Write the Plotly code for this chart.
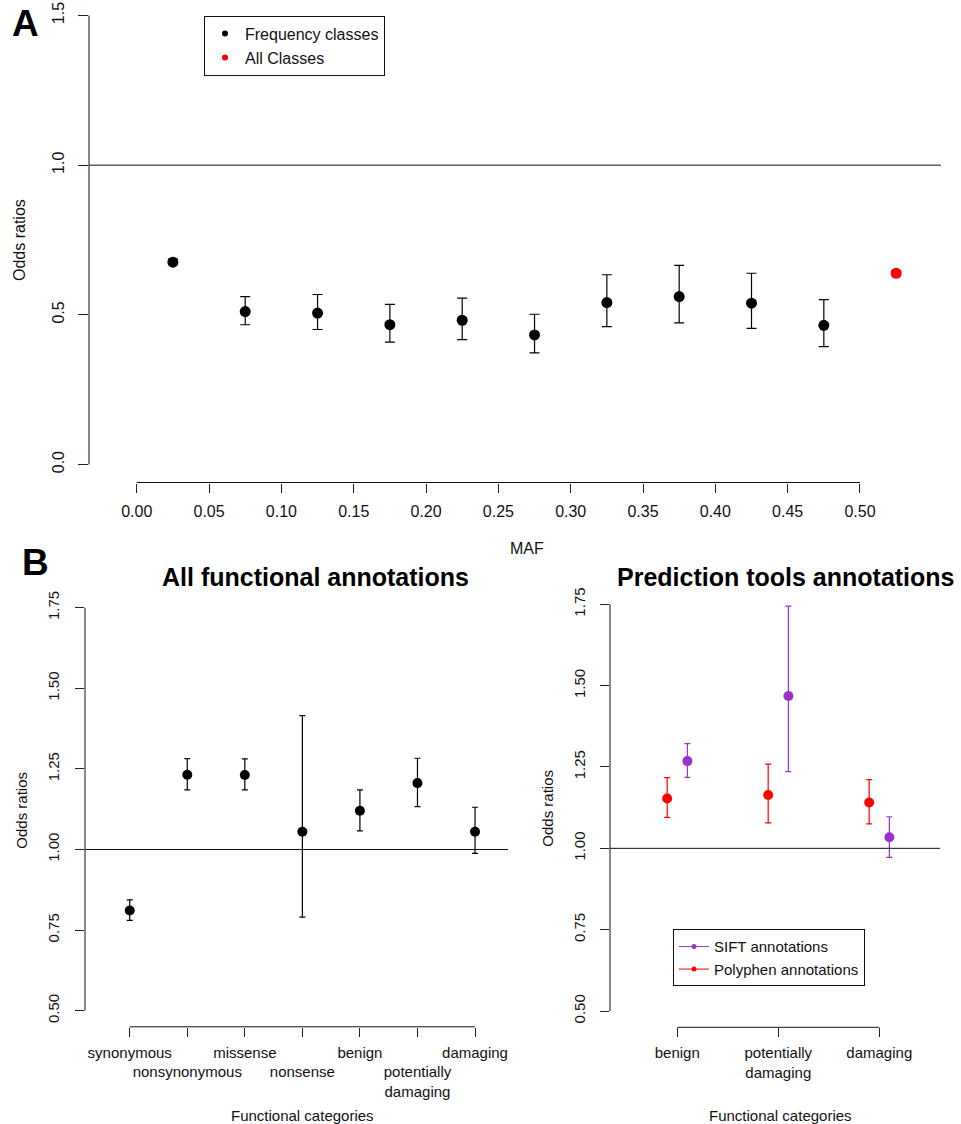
import plotly.graph_objects as go

# ---------------- data ----------------
maf_mid = [0.025, 0.075, 0.125, 0.175, 0.225, 0.275, 0.325, 0.375, 0.425, 0.475]
freq_or = [0.676, 0.511, 0.506, 0.467, 0.482, 0.433, 0.541, 0.561, 0.539, 0.465]
freq_low = [0.668, 0.467, 0.451, 0.409, 0.417, 0.373, 0.461, 0.473, 0.455, 0.394]
freq_high = [0.686, 0.561, 0.568, 0.535, 0.556, 0.502, 0.634, 0.665, 0.639, 0.551]

all_x = [0.525]
all_or = [0.639]
all_low = [0.630]
all_high = [0.648]

maf_ticks = [0.00, 0.05, 0.10, 0.15, 0.20, 0.25, 0.30, 0.35, 0.40, 0.45, 0.50]
or_ticks_a = [0.0, 0.5, 1.0, 1.5]
or_ticks_b = [0.50, 0.75, 1.00, 1.25, 1.50, 1.75]

func_cats = ["synonymous", "nonsynonymous", "missense", "nonsense",
             "benign", "potentially damaging", "damaging"]
func_or = [0.811, 1.232, 1.231, 1.055, 1.120, 1.206, 1.055]
func_low = [0.780, 1.185, 1.185, 0.790, 1.058, 1.133, 0.988]
func_high = [0.844, 1.282, 1.281, 1.415, 1.185, 1.283, 1.131]

pred_cats = ["benign", "potentially damaging", "damaging"]
polyphen_or = [1.153, 1.164, 1.141]
polyphen_low = [1.095, 1.078, 1.075]
polyphen_high = [1.217, 1.259, 1.211]
sift_or = [1.268, 1.468, 1.034]
sift_low = [1.218, 1.236, 0.972]
sift_high = [1.322, 1.744, 1.097]

# ---------------- helpers ----------------
W, H = 961, 1124
FONT = "Liberation Sans, Arial, Helvetica, sans-serif"
PURPLE = "#9932CC"
RED = "#FF0000"


def px(p):
    return p / W


def py(p):
    return 1 - p / H


def err(vals, lo, hi, color, width):
    return dict(type="data", symmetric=False,
                array=[h - v for v, h in zip(vals, hi)],
                arrayminus=[v - l for v, l in zip(vals, lo)],
                color=color, thickness=1.2, width=width)


fig = go.Figure()

# ---- Panel A ----
fig.add_trace(go.Scatter(x=maf_mid, y=freq_or, mode="markers",
                         marker=dict(color="black", size=11),
                         error_y=err(freq_or, freq_low, freq_high, "black", 5),
                         showlegend=False, xaxis="x", yaxis="y"))
fig.add_trace(go.Scatter(x=all_x, y=all_or, mode="markers",
                         marker=dict(color=RED, size=11),
                         error_y=err(all_or, all_low, all_high, RED, 5),
                         showlegend=False, xaxis="x", yaxis="y"))
fig.add_trace(go.Scatter(x=[None], y=[None], mode="markers", name="Frequency classes",
                         marker=dict(color="black", size=6), legend="legend",
                         xaxis="x", yaxis="y"))
fig.add_trace(go.Scatter(x=[None], y=[None], mode="markers", name="All Classes",
                         marker=dict(color=RED, size=6), legend="legend",
                         xaxis="x", yaxis="y"))

# ---- Panel B left ----
fx = [i + 1 for i in range(len(func_cats))]
fig.add_trace(go.Scatter(x=fx, y=func_or, mode="markers",
                         marker=dict(color="black", size=10),
                         error_y=err(func_or, func_low, func_high, "black", 3),
                         showlegend=False, xaxis="x2", yaxis="y2"))

# ---- Panel B right ----
px_cat = [i + 1 for i in range(len(pred_cats))]
fig.add_trace(go.Scatter(x=[v + 0.1 for v in px_cat], y=sift_or, mode="markers",
                         marker=dict(color=PURPLE, size=10),
                         error_y=err(sift_or, sift_low, sift_high, PURPLE, 3),
                         showlegend=False, xaxis="x3", yaxis="y3"))
fig.add_trace(go.Scatter(x=[v - 0.1 for v in px_cat], y=polyphen_or, mode="markers",
                         marker=dict(color=RED, size=10),
                         error_y=err(polyphen_or, polyphen_low, polyphen_high, RED, 3),
                         showlegend=False, xaxis="x3", yaxis="y3"))
fig.add_trace(go.Scatter(x=[None], y=[None], mode="lines+markers", name="SIFT annotations",
                         line=dict(color=PURPLE, width=1), marker=dict(color=PURPLE, size=5),
                         legend="legend2", xaxis="x3", yaxis="y3"))
fig.add_trace(go.Scatter(x=[None], y=[None], mode="lines+markers", name="Polyphen annotations",
                         line=dict(color=RED, width=1), marker=dict(color=RED, size=5),
                         legend="legend2", xaxis="x3", yaxis="y3"))


def cat_ticktext(cats, stagger):
    out = []
    for i, c in enumerate(cats):
        t = c.replace(" ", "<br>")
        if stagger and i % 2 == 1:
            t = "<br>" + t
        out.append(t)
    return out


axis_common = dict(showline=False, showgrid=False, zeroline=False, ticks="outside",
                   tickwidth=1, tickcolor="#222", color="#111", automargin=False)

fig.update_layout(
    width=W, height=H, margin=dict(l=0, r=0, t=0, b=0, autoexpand=False),
    paper_bgcolor="white", plot_bgcolor="white",
    font=dict(family=FONT, color="#111", size=15),
    xaxis=dict(domain=[px(89), px(941)], range=[-0.033, 0.556], anchor="y",
               tickvals=maf_ticks, ticktext=[f"{v:.2f}" for v in maf_ticks], tickangle=0,
               ticklen=9, ticklabelstandoff=5, tickfont=dict(size=16), **axis_common),
    yaxis=dict(domain=[py(482.5), 1], range=[-0.06, 1.5517], anchor="x",
               tickvals=or_ticks_a, ticktext=[f"{v:.1f}" for v in or_ticks_a],
               tickangle=-90, ticklen=10, ticklabelstandoff=8, tickfont=dict(size=16),
               **axis_common),
    xaxis2=dict(domain=[px(85), px(508)], range=[0.223, 7.573], anchor="y2",
                tickvals=fx, ticktext=cat_ticktext(func_cats, True), tickangle=0,
                ticklen=9, ticklabelstandoff=3, tickfont=dict(size=15), **axis_common),
    yaxis2=dict(domain=[py(1026.8), py(591.6)], range=[0.45, 1.80], anchor="x2",
                tickvals=or_ticks_b, ticktext=[f"{v:.2f}" for v in or_ticks_b],
                tickangle=-90, ticklen=9, ticklabelstandoff=10, tickfont=dict(size=15),
                **axis_common),
    xaxis3=dict(domain=[px(610), px(940)], range=[0.334, 3.601], anchor="y3",
                tickvals=px_cat, ticktext=cat_ticktext(pred_cats, False), tickangle=0,
                ticklen=9, ticklabelstandoff=3, tickfont=dict(size=15), **axis_common),
    yaxis3=dict(domain=[py(1027.3), py(588)], range=[0.45, 1.80], anchor="x3",
                tickvals=or_ticks_b, ticktext=[f"{v:.2f}" for v in or_ticks_b],
                tickangle=-90, ticklen=9, ticklabelstandoff=9, tickfont=dict(size=15),
                **axis_common),
    legend=dict(x=px(204), y=py(15.7), xanchor="left", yanchor="top",
                bordercolor="#111", borderwidth=1, bgcolor="white",
                font=dict(size=16, color="#111"), itemwidth=30, tracegroupgap=0),
    legend2=dict(x=px(673), y=py(929.3), xanchor="left", yanchor="top",
                 bordercolor="#111", borderwidth=1, bgcolor="white",
                 font=dict(size=15, color="#111"), itemwidth=30, tracegroupgap=0),
)

shapes = []
line_style = dict(color="#111", width=1)
# panel A
shapes.append(dict(type="line", xref="x domain", yref="y", x0=0, x1=0,
                   y0=or_ticks_a[0], y1=or_ticks_a[-1], line=line_style))
shapes.append(dict(type="line", xref="x", yref="y domain", x0=maf_ticks[0], x1=maf_ticks[-1],
                   y0=0, y1=0, line=line_style))
shapes.append(dict(type="line", xref="x domain", yref="y", x0=0, x1=1, y0=1, y1=1,
                   line=line_style))
# panel B left
shapes.append(dict(type="line", xref="x2 domain", yref="y2", x0=0, x1=0,
                   y0=or_ticks_b[0], y1=or_ticks_b[-1], line=line_style))
shapes.append(dict(type="line", xref="x2", yref="y2 domain", x0=fx[0], x1=fx[-1],
                   y0=0, y1=0, line=line_style))
shapes.append(dict(type="line", xref="x2 domain", yref="y2", x0=0, x1=1, y0=1, y1=1,
                   line=line_style))
# panel B right
shapes.append(dict(type="line", xref="x3 domain", yref="y3", x0=0, x1=0,
                   y0=or_ticks_b[0], y1=or_ticks_b[-1], line=line_style))
shapes.append(dict(type="line", xref="x3", yref="y3 domain", x0=px_cat[0], x1=px_cat[-1],
                   y0=0, y1=0, line=line_style))
shapes.append(dict(type="line", xref="x3 domain", yref="y3", x0=0, x1=1, y0=1, y1=1,
                   line=line_style))
fig.update_layout(shapes=shapes)


def ann(text, x, y, size, bold=False, angle=0):
    return dict(text=f"<b>{text}</b>" if bold else text, x=px(x), y=py(y),
                xref="paper", yref="paper", xanchor="center", yanchor="middle",
                showarrow=False, textangle=angle,
                font=dict(family=FONT, size=size, color="#000" if bold else "#111"))


annotations = [
    ann("A", 25.5, 23, 37, bold=True),
    ann("B", 35.7, 562, 37, bold=True),
    ann("Odds ratios", 20, 240, 16, angle=-90),
    ann("MAF", 527, 548, 16),
    ann("All functional annotations", 315, 577, 25, bold=True),
    ann("Prediction tools annotations", 786, 577, 25, bold=True),
    ann("Odds ratios", 20.7, 810, 15, angle=-90),
    ann("Odds ratios", 546.7, 808, 15, angle=-90),
    ann("Functional categories", 302, 1115, 15),
    ann("Functional categories", 780, 1115, 15),
]
fig.update_layout(annotations=annotations)

fig.write_html("out.html")
